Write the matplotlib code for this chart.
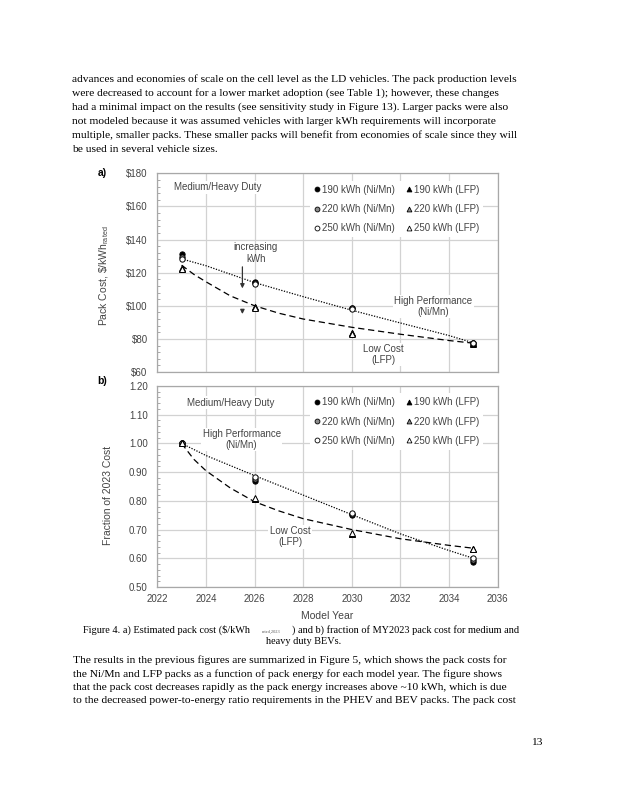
import matplotlib
matplotlib.use("Agg")
import matplotlib.pyplot as plt
from matplotlib.lines import Line2D
from matplotlib.ticker import MultipleLocator, FuncFormatter

# ---------------- data ----------------
years = [2023, 2026, 2030, 2035]

# panel a: pack cost, $/kWh
a_ni_190 = [131.0, 114.6, 98.6, 77.3]
a_ni_220 = [129.3, 114.0, 98.4, 77.6]
a_ni_250 = [128.0, 113.4, 98.2, 77.8]
a_lfp_190 = [122.9, 99.4, 83.6, 77.2]
a_lfp_220 = [122.5, 99.1, 83.4, 77.3]
a_lfp_250 = [122.1, 98.8, 83.2, 77.4]

a_ni_fit_years = [2023, 2024, 2026, 2028, 2030, 2032, 2034, 2035]
a_ni_fit = [128.3, 124.2, 114.0, 105.5, 97.3, 89.6, 82.0, 77.6]
a_lfp_fit_years = [2023, 2023.5, 2024, 2025, 2026, 2027, 2028, 2030, 2032, 2034, 2035]
a_lfp_fit = [124.5, 119.0, 114.5, 106.0, 100.0, 95.5, 92.0, 87.0, 82.8, 79.0, 77.4]

# panel b: fraction of 2023 cost
b_ni_190 = [1.000, 0.868, 0.752, 0.588]
b_ni_220 = [1.000, 0.875, 0.755, 0.594]
b_ni_250 = [1.000, 0.882, 0.757, 0.600]
b_lfp_190 = [1.000, 0.808, 0.685, 0.632]
b_lfp_220 = [1.000, 0.808, 0.686, 0.633]
b_lfp_250 = [1.000, 0.809, 0.687, 0.634]

b_ni_fit_years = [2023, 2024, 2026, 2028, 2030, 2032, 2034, 2035]
b_ni_fit = [1.000, 0.958, 0.888, 0.820, 0.752, 0.685, 0.627, 0.600]
b_lfp_fit_years = [2023, 2023.5, 2024, 2025, 2026, 2027, 2028, 2030, 2032, 2034, 2035]
b_lfp_fit = [1.000, 0.945, 0.905, 0.845, 0.797, 0.765, 0.738, 0.700, 0.668, 0.645, 0.635]

legend_labels = ["190 kWh (Ni/Mn)", "220 kWh (Ni/Mn)", "250 kWh (Ni/Mn)",
                 "190 kWh (LFP)", "220 kWh (LFP)", "250 kWh (LFP)"]

x_ticks = [2022, 2024, 2026, 2028, 2030, 2032, 2034, 2036]

# ---------------- style ----------------
W, H = 618, 800
fig = plt.figure(figsize=(W / 100, H / 100), dpi=100)
fig.patch.set_facecolor("white")

SANS = "Liberation Sans"
SERIF = "Liberation Serif"
TXT = "#444444"
GRID = "#d2d2d2"
SPINE = "#a8a8a8"
FS = 7

def ftext(x, y, s, **kw):
    fig.text(x / W, 1 - y / H, s, **kw)

fills = ["black", "#8c8c8c", "white"]

def style_ax(ax):
    ax.set_xlim(2022, 2036)
    ax.xaxis.set_major_locator(MultipleLocator(2))
    ax.grid(True, which="major", color=GRID, lw=0.9, zorder=0)
    ax.set_axisbelow(True)
    for s in ax.spines.values():
        s.set_color(SPINE)
        s.set_linewidth(0.9)
    ax.tick_params(axis="both", which="major", length=0, labelsize=FS,
                   labelcolor=TXT, pad=7)
    ax.tick_params(axis="y", which="minor", direction="in", length=2.5,
                   color=SPINE, width=0.7)
    ax.tick_params(axis="x", which="minor", length=0)
    for lab in ax.get_xticklabels() + ax.get_yticklabels():
        lab.set_fontfamily(SANS)

def draw_points(ax, ni_sets, lfp_sets, ni_on_top):
    zn, zl = (5, 4) if ni_on_top else (4, 5)
    for vals, fc in zip(lfp_sets, fills):
        ax.plot(years, vals, ls="none", marker="^", ms=3.8, mfc=fc,
                mec="black", mew=0.7, zorder=zl)
    for vals, fc in zip(ni_sets, fills):
        ax.plot(years, vals, ls="none", marker="o", ms=3.8, mfc=fc,
                mec="black", mew=0.7, zorder=zn)

def add_legend(ax, anchor):
    handles = []
    for fc in fills:
        handles.append(Line2D([], [], ls="none", marker="o", ms=3.5, mfc=fc,
                              mec="black", mew=0.6))
    for fc in fills:
        handles.append(Line2D([], [], ls="none", marker="^", ms=3.5, mfc=fc,
                              mec="black", mew=0.6))
    leg = ax.legend(handles, legend_labels, ncol=2, loc="upper left",
                    bbox_to_anchor=anchor, frameon=True, fancybox=False,
                    framealpha=1, edgecolor="none", facecolor="white",
                    handlelength=0.6, handletextpad=0.25, columnspacing=1.1,
                    labelspacing=0.95, borderpad=0.4, borderaxespad=0,
                    prop={"family": SANS, "size": FS})
    for t in leg.get_texts():
        t.set_color(TXT)
    leg.set_zorder(3)

box = dict(facecolor="white", edgecolor="none", pad=1.0)

# ---------------- panel a ----------------
axl, axr = 157.3, 497.7
ax1 = fig.add_axes([axl / W, 1 - 372 / H, (axr - axl) / W, (372 - 173.3) / H])
ax1.set_ylim(60, 180)
ax1.yaxis.set_major_locator(MultipleLocator(20))
ax1.yaxis.set_minor_locator(MultipleLocator(4))
ax1.yaxis.set_major_formatter(FuncFormatter(lambda v, p: "${:.0f}".format(v)))
style_ax(ax1)
ax1.set_xticks(x_ticks)
ax1.set_xticklabels([])

ax1.plot(a_ni_fit_years, a_ni_fit, color="black", ls=(0, (1, 1.2)), lw=0.9, zorder=3)
ax1.plot(a_lfp_fit_years, a_lfp_fit, color="black", ls=(0, (5, 3)), lw=0.9, zorder=3)
draw_points(ax1, [a_ni_190, a_ni_220, a_ni_250], [a_lfp_190, a_lfp_220, a_lfp_250], True)
add_legend(ax1, (0.449, 0.962))

ax1.text(2024.5, 171.5, "Medium/Heavy Duty", ha="center", va="center",
         fontsize=FS, family=SANS, color=TXT, bbox=box, zorder=3)
ax1.text(2026.05, 131.8, "increasing\nkWh", ha="center", va="center",
         fontsize=FS, family=SANS, color=TXT, linespacing=1.2, zorder=3)
ax1.annotate("", xy=(2025.5, 110.5), xytext=(2025.5, 123.5),
             arrowprops=dict(arrowstyle="-|>", color="#333333", lw=0.9,
                             mutation_scale=6, shrinkA=0, shrinkB=0), zorder=4)
ax1.annotate("", xy=(2025.5, 95.0), xytext=(2025.5, 97.2),
             arrowprops=dict(arrowstyle="-|>", color="#333333", lw=0.9,
                             mutation_scale=6, shrinkA=0, shrinkB=0), zorder=4)
ax1.text(2033.35, 99.5, "High Performance\n(Ni/Mn)", ha="center", va="center",
         fontsize=FS, family=SANS, color=TXT, bbox=box, linespacing=1.1, zorder=3)
ax1.text(2031.3, 70.7, "Low Cost\n(LFP)", ha="center", va="center",
         fontsize=FS, family=SANS, color=TXT, bbox=box, linespacing=1.1, zorder=3)

ax1.set_ylabel("Pack Cost, \\$/kWh$_{\\mathregular{rated}}$", fontsize=FS + 0.5,
               family=SANS, color=TXT)
ax1.yaxis.set_label_coords(-0.137, 0.483)

# ---------------- panel b ----------------
ax2 = fig.add_axes([axl / W, 1 - 587 / H, (axr - axl) / W, (587 - 386) / H])
ax2.set_ylim(0.5, 1.2)
ax2.yaxis.set_major_locator(MultipleLocator(0.1))
ax2.yaxis.set_minor_locator(MultipleLocator(0.02))
ax2.yaxis.set_major_formatter(FuncFormatter(lambda v, p: "{:.2f}".format(v)))
ax2.set_xticks(x_ticks)
style_ax(ax2)
ax2.tick_params(axis="x", pad=5)

ax2.plot(b_ni_fit_years, b_ni_fit, color="black", ls=(0, (1, 1.2)), lw=0.9, zorder=3)
ax2.plot(b_lfp_fit_years, b_lfp_fit, color="black", ls=(0, (5, 3)), lw=0.9, zorder=3)
draw_points(ax2, [b_ni_190, b_ni_220, b_ni_250], [b_lfp_190, b_lfp_220, b_lfp_250], False)
add_legend(ax2, (0.449, 0.963))

ax2.text(2025.0, 1.142, "Medium/Heavy Duty", ha="center", va="center",
         fontsize=FS, family=SANS, color=TXT, bbox=box, zorder=3)
ax2.text(2025.47, 1.013, "High Performance\n(Ni/Mn)", ha="center", va="center",
         fontsize=FS, family=SANS, color=TXT, bbox=box, linespacing=1.1, zorder=3)
ax2.text(2027.46, 0.675, "Low Cost\n(LFP)", ha="center", va="center",
         fontsize=FS, family=SANS, color=TXT, bbox=box, linespacing=1.1, zorder=3)

ax2.set_ylabel("Fraction of 2023 Cost", fontsize=FS + 0.5, family=SANS, color=TXT)
ax2.yaxis.set_label_coords(-0.130, 0.458)
ax2.set_xlabel("Model Year", fontsize=FS + 0.5, family=SANS, color=TXT, labelpad=5)

ftext(102, 173.5, "a)", fontsize=7.5, family=SANS, weight="bold", ha="center", va="center")
ftext(102, 381.5, "b)", fontsize=7.5, family=SANS, weight="bold", ha="center", va="center")

# ---------------- page text ----------------
BODY = 8.28
para1 = [
    "advances and economies of scale on the cell level as the LD vehicles. The pack production levels",
    "were decreased to account for a lower market adoption (see Table 1); however, these changes",
    "had a minimal impact on the results (see sensitivity study in Figure 13). Larger packs were also",
    "not modeled because it was assumed vehicles with larger kWh requirements will incorporate",
    "multiple, smaller packs. These smaller packs will benefit from economies of scale since they will",
    "be used in several vehicle sizes.",
]
for i, line in enumerate(para1):
    ftext(72.5, 79.3 + i * 13.95, line, fontsize=BODY, family=SERIF,
          ha="left", va="center")

ftext(82.7, 630, "Figure 4. a) Estimated pack cost ($/kWh", fontsize=7.4,
      family=SERIF, ha="left", va="center")
ftext(262, 632, "rated,2023", fontsize=3.2, family=SERIF, color="#555555",
      ha="left", va="center")
ftext(292.3, 630, ") and b) fraction of MY2023 pack cost for medium and",
      fontsize=7.4, family=SERIF, ha="left", va="center")
ftext(304, 641.5, "heavy duty BEVs.", fontsize=7.4, family=SERIF,
      ha="center", va="center")

para2 = [
    "The results in the previous figures are summarized in Figure 5, which shows the pack costs for",
    "the Ni/Mn and LFP packs as a function of pack energy for each model year. The figure shows",
    "that the pack cost decreases rapidly as the pack energy increases above ~10 kWh, which is due",
    "to the decreased power-to-energy ratio requirements in the PHEV and BEV packs. The pack cost",
]
for i, line in enumerate(para2):
    ftext(73.3, 660.3 + i * 13.35, line, fontsize=BODY, family=SERIF,
          ha="left", va="center")

ftext(537, 742.5, "13", fontsize=BODY, family=SERIF, ha="center", va="center")

fig.savefig("out.png", dpi=100, facecolor="white")
